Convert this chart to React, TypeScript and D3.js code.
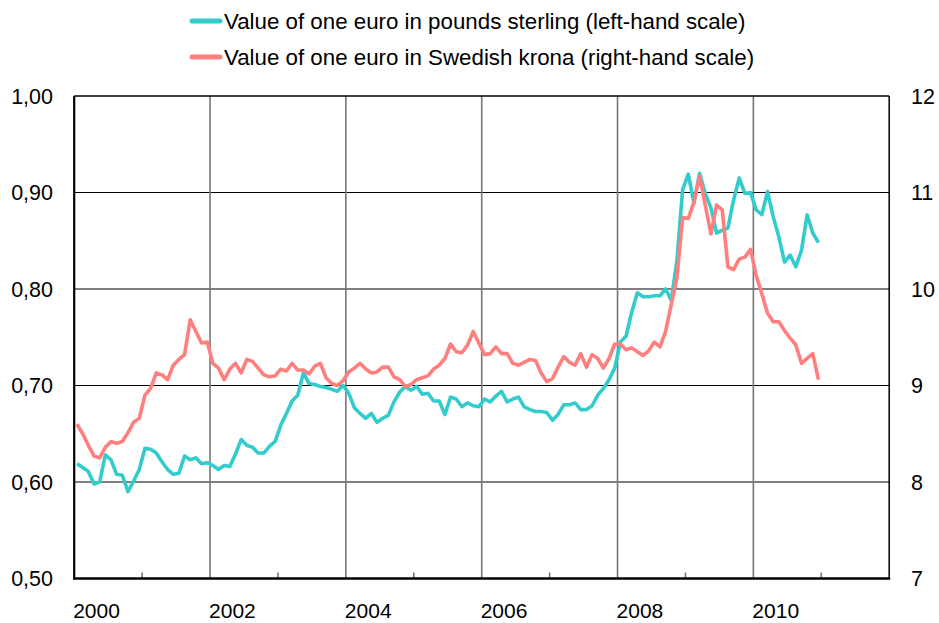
import React from 'react';
import * as d3 from 'd3';

// monthly averages, Jan 2000 - Dec 2010
const startYear = 2000;

const gbpValues = [
  0.619, 0.615, 0.611, 0.598, 0.600, 0.628, 0.623, 0.608, 0.607, 0.590, 0.601, 0.613, // 2000
  0.635, 0.634, 0.630, 0.621, 0.613, 0.608, 0.609, 0.627, 0.623, 0.625, 0.619, 0.620, // 2001
  0.617, 0.613, 0.617, 0.616, 0.629, 0.644, 0.638, 0.636, 0.630, 0.630, 0.637, 0.642, // 2002
  0.659, 0.671, 0.684, 0.690, 0.713, 0.702, 0.701, 0.699, 0.698, 0.696, 0.694, 0.700, // 2003
  0.692, 0.677, 0.671, 0.666, 0.671, 0.662, 0.666, 0.669, 0.683, 0.693, 0.699, 0.695, // 2004
  0.699, 0.691, 0.692, 0.684, 0.684, 0.670, 0.688, 0.686, 0.678, 0.682, 0.679, 0.678, // 2005
  0.686, 0.683, 0.689, 0.694, 0.683, 0.686, 0.688, 0.678, 0.675, 0.673, 0.673, 0.672, // 2006
  0.664, 0.670, 0.680, 0.680, 0.682, 0.675, 0.675, 0.679, 0.690, 0.697, 0.706, 0.718, // 2007
  0.745, 0.751, 0.776, 0.796, 0.792, 0.792, 0.793, 0.793, 0.800, 0.788, 0.830, 0.903, // 2008
  0.919, 0.889, 0.920, 0.899, 0.884, 0.858, 0.861, 0.863, 0.892, 0.915, 0.899, 0.900, // 2009
  0.882, 0.877, 0.901, 0.875, 0.854, 0.828, 0.835, 0.823, 0.840, 0.877, 0.858, 0.848, // 2010
];

const sekValues = [
  8.60, 8.50, 8.38, 8.27, 8.25, 8.36, 8.42, 8.40, 8.42, 8.51, 8.62, 8.66, // 2000
  8.90, 8.97, 9.13, 9.11, 9.06, 9.21, 9.27, 9.32, 9.68, 9.56, 9.44, 9.45, // 2001
  9.23, 9.18, 9.06, 9.17, 9.23, 9.13, 9.27, 9.25, 9.18, 9.11, 9.09, 9.10, // 2002
  9.17, 9.15, 9.23, 9.16, 9.16, 9.12, 9.20, 9.23, 9.08, 9.02, 9.00, 9.05, // 2003
  9.14, 9.18, 9.23, 9.17, 9.13, 9.14, 9.19, 9.19, 9.09, 9.06, 8.99, 9.01, // 2004
  9.06, 9.08, 9.10, 9.17, 9.21, 9.28, 9.43, 9.35, 9.34, 9.42, 9.56, 9.44, // 2005
  9.32, 9.33, 9.40, 9.33, 9.33, 9.23, 9.21, 9.24, 9.27, 9.26, 9.13, 9.04, // 2006
  9.07, 9.19, 9.30, 9.24, 9.21, 9.33, 9.19, 9.32, 9.28, 9.18, 9.28, 9.43, // 2007
  9.43, 9.37, 9.39, 9.35, 9.31, 9.36, 9.45, 9.40, 9.56, 9.84, 10.12, 10.74, // 2008
  10.73, 10.90, 11.17, 10.87, 10.57, 10.87, 10.82, 10.23, 10.20, 10.31, 10.33, 10.41, // 2009
  10.14, 9.95, 9.75, 9.66, 9.66, 9.57, 9.49, 9.42, 9.23, 9.28, 9.33, 9.06, // 2010
];

const leftTicks = [0.5, 0.6, 0.7, 0.8, 0.9, 1.0];
const rightTicks = [7, 8, 9, 10, 11, 12];
const yearLabels = [2000, 2002, 2004, 2006, 2008, 2010];
const minorYears = [2001, 2003, 2005, 2007, 2009, 2011];

const legendItems = [
  { label: 'Value of one euro in pounds sterling (left-hand scale)', color: '#33CCCC' },
  { label: 'Value of one euro in Swedish krona (right-hand scale)', color: '#FF7F7F' },
];

const FONT = '"Liberation Sans", Arial, Helvetica, sans-serif';

export default function App() {
  const width = 939;
  const height = 623;
  const plot = { left: 74.2, right: 889.2, top: 96, bottom: 578.5 };

  const x = d3.scaleLinear().domain([2000, 2012]).range([plot.left, plot.right]);
  const yLeft = d3.scaleLinear().domain([0.5, 1.0]).range([plot.bottom, plot.top]);
  const yRight = d3.scaleLinear().domain([7, 12]).range([plot.bottom, plot.top]);

  const monthX = (i: number) => x(startYear + (i + 0.5) / 12);

  const gbpLine = d3.line<number>().x((_, i) => monthX(i)).y(d => yLeft(d));
  const sekLine = d3.line<number>().x((_, i) => monthX(i)).y(d => yRight(d));

  const fmt = (v: number) => v.toFixed(2).replace('.', ',');

  return (
    <div style={{ position: 'fixed', left: 0, top: 0 }}>
      <svg width={width} height={height} style={{ display: 'block', background: '#fff' }} fontFamily={FONT}>
        {/* legend */}
        {legendItems.map((d, i) => (
          <g key={d.label} transform={`translate(0,${21 + i * 36})`}>
            <line x1={192} x2={220} y1={0} y2={0} stroke={d.color} strokeWidth={5} strokeLinecap="round" />
            <text x={224} y={0} dy="0.35em" fontSize={22.3} fill="#000">{d.label}</text>
          </g>
        ))}

        {/* horizontal grid */}
        {leftTicks.slice(1, -1).map(t => (
          <line key={t} x1={plot.left} x2={plot.right} y1={yLeft(t)} y2={yLeft(t)} stroke="#000" strokeWidth={1.2} />
        ))}
        {/* vertical grid */}
        {yearLabels.slice(1).map(yr => (
          <line key={yr} x1={x(yr)} x2={x(yr)} y1={plot.top} y2={plot.bottom} stroke="#777" strokeWidth={1.6} />
        ))}
        {/* minor ticks */}
        {minorYears.map(yr => (
          <line key={yr} x1={x(yr)} x2={x(yr)} y1={plot.bottom} y2={plot.bottom - 6} stroke="#777" strokeWidth={1.6} />
        ))}

        {/* frame */}
        <line x1={plot.left} x2={plot.right} y1={plot.top} y2={plot.top} stroke="#000" strokeWidth={1.5} />
        <line x1={plot.right} x2={plot.right} y1={plot.top} y2={plot.bottom} stroke="#000" strokeWidth={1.5} />
        <line x1={plot.left} x2={plot.left} y1={plot.top} y2={plot.bottom + 1} stroke="#000" strokeWidth={2.2} />
        <line x1={plot.left - 1} x2={plot.right + 1} y1={plot.bottom} y2={plot.bottom} stroke="#000" strokeWidth={2.5} />

        {/* series */}
        <path d={gbpLine(gbpValues) || ''} fill="none" stroke="#33CCCC" strokeWidth={3.6} strokeLinejoin="round" />
        <path d={sekLine(sekValues) || ''} fill="none" stroke="#FF7F7F" strokeWidth={3.6} strokeLinejoin="round" />

        {/* left axis labels */}
        {leftTicks.map(t => (
          <text key={t} x={53} y={yLeft(t)} dy="0.35em" textAnchor="end" fontSize={21.5} fill="#000">{fmt(t)}</text>
        ))}
        {/* right axis labels */}
        {rightTicks.map(t => (
          <text key={t} x={911} y={yRight(t)} dy="0.35em" textAnchor="start" fontSize={21.5} fill="#000">{t}</text>
        ))}
        {/* x labels */}
        {yearLabels.map(yr => (
          <text key={yr} x={x(yr) - 1} y={618} textAnchor="start" fontSize={21} fill="#000">{yr}</text>
        ))}
      </svg>
    </div>
  );
}
